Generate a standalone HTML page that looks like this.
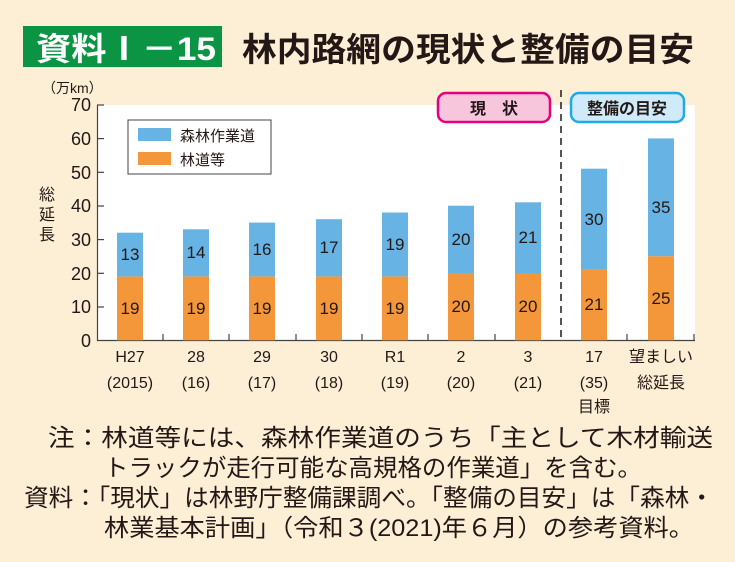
<!DOCTYPE html><html><head><meta charset="utf-8"><style>
body{margin:0;background:#fdeed6;}
svg{display:block;font-family:"Liberation Sans","Noto Sans CJK JP",sans-serif;}
</style></head><body>
<svg width="735" height="562" viewBox="0 0 735 562">
<rect width="735" height="562" fill="#fdeed6"/>
<rect x="23" y="26" width="199" height="41" fill="#0b9444"/>
<text x="36" y="60" font-size="32" fill="#fff" font-weight="bold" textLength="180" lengthAdjust="spacingAndGlyphs">資料Ⅰ－15</text>
<text x="242" y="61" font-size="33" fill="#231815" font-weight="bold" textLength="452" lengthAdjust="spacingAndGlyphs">林内路網の現状と整備の目安</text>
<text x="42" y="93" font-size="14" fill="#231815">（万km）</text>
<rect x="98" y="105" width="597" height="236" fill="#fff"/>
<g font-size="18" fill="#231815" text-anchor="end">
<text x="91" y="347">0</text><text x="91" y="313">10</text><text x="91" y="280">20</text><text x="91" y="246">30</text><text x="91" y="212">40</text><text x="91" y="179">50</text><text x="91" y="145">60</text><text x="91" y="111">70</text>
</g>
<g stroke="#444" stroke-width="1.2">
<line x1="97.5" y1="105" x2="97.5" y2="341"/>
<line x1="97" y1="340.5" x2="695" y2="340.5"/>
<line x1="97" y1="105" x2="104" y2="105"/><line x1="97" y1="138.6" x2="104" y2="138.6"/><line x1="97" y1="172.3" x2="104" y2="172.3"/><line x1="97" y1="206" x2="104" y2="206"/><line x1="97" y1="239.6" x2="104" y2="239.6"/><line x1="97" y1="273.3" x2="104" y2="273.3"/><line x1="97" y1="307" x2="104" y2="307"/>
<line x1="163" y1="334" x2="163" y2="341"/><line x1="229" y1="334" x2="229" y2="341"/><line x1="296" y1="334" x2="296" y2="341"/><line x1="362" y1="334" x2="362" y2="341"/><line x1="428" y1="334" x2="428" y2="341"/><line x1="495" y1="334" x2="495" y2="341"/><line x1="627" y1="334" x2="627" y2="341"/><line x1="694" y1="334" x2="694" y2="341"/>
</g>
<line x1="561" y1="90" x2="561" y2="340" stroke="#231815" stroke-width="1.5" stroke-dasharray="7,5"/>
<g font-size="16" fill="#231815" text-anchor="middle">
<text x="47" y="200">総</text><text x="47" y="220">延</text><text x="47" y="240">長</text>
</g>
<rect x="128" y="120" width="143" height="54" fill="#fff" stroke="#444" stroke-width="1"/>
<rect x="138" y="128" width="33" height="13" fill="#67b3e4"/>
<rect x="138" y="152" width="33" height="13" fill="#f3973a"/>
<text x="180" y="141" font-size="15" fill="#231815">森林作業道</text>
<text x="180" y="165" font-size="15" fill="#231815">林道等</text>
<rect x="438" y="93" width="112" height="29" rx="8" fill="#f7c6dc" stroke="#e4007f" stroke-width="2.5"/>
<text x="494" y="114" font-size="16" font-weight="bold" fill="#231815" text-anchor="middle">現　状</text>
<rect x="571" y="93" width="113" height="29" rx="8" fill="#cfeaf8" stroke="#1eaae7" stroke-width="2.5"/>
<text x="627" y="114" font-size="16" font-weight="bold" fill="#231815" text-anchor="middle">整備の目安</text>
<g>
<rect x="117" y="276.4" width="26" height="63.9" fill="#f3973a"/><rect x="117" y="232.7" width="26" height="43.7" fill="#67b3e4"/>
<rect x="183" y="276.4" width="26" height="63.9" fill="#f3973a"/><rect x="183" y="229.3" width="26" height="47.1" fill="#67b3e4"/>
<rect x="249" y="276.4" width="26" height="63.9" fill="#f3973a"/><rect x="249" y="222.6" width="26" height="53.8" fill="#67b3e4"/>
<rect x="316" y="276.4" width="26" height="63.9" fill="#f3973a"/><rect x="316" y="219.2" width="26" height="57.2" fill="#67b3e4"/>
<rect x="382" y="276.4" width="26" height="63.9" fill="#f3973a"/><rect x="382" y="212.5" width="26" height="63.9" fill="#67b3e4"/>
<rect x="448" y="273" width="26" height="67.3" fill="#f3973a"/><rect x="448" y="205.7" width="26" height="67.3" fill="#67b3e4"/>
<rect x="515" y="273" width="26" height="67.3" fill="#f3973a"/><rect x="515" y="202.3" width="26" height="70.7" fill="#67b3e4"/>
<rect x="581" y="269.6" width="26" height="70.7" fill="#f3973a"/><rect x="581" y="168.7" width="26" height="100.9" fill="#67b3e4"/>
<rect x="648" y="256.2" width="26" height="84.1" fill="#f3973a"/><rect x="648" y="138.4" width="26" height="117.8" fill="#67b3e4"/>
</g>
<g font-size="17" fill="#231815" text-anchor="middle">
<text x="130" y="314">19</text><text x="130" y="260">13</text>
<text x="196" y="314">19</text><text x="196" y="258">14</text>
<text x="262" y="314">19</text><text x="262" y="255">16</text>
<text x="329" y="314">19</text><text x="329" y="253">17</text>
<text x="395" y="314">19</text><text x="395" y="250">19</text>
<text x="461" y="312">20</text><text x="461" y="245">20</text>
<text x="528" y="312">20</text><text x="528" y="243">21</text>
<text x="594" y="310">21</text><text x="594" y="225">30</text>
<text x="661" y="304">25</text><text x="661" y="213">35</text>
</g>
<g font-size="16" fill="#231815" text-anchor="middle">
<text x="130" y="362">H27</text><text x="130" y="388">(2015)</text>
<text x="196" y="362">28</text><text x="196" y="388">(16)</text>
<text x="262" y="362">29</text><text x="262" y="388">(17)</text>
<text x="329" y="362">30</text><text x="329" y="388">(18)</text>
<text x="395" y="362">R1</text><text x="395" y="388">(19)</text>
<text x="461" y="362">2</text><text x="461" y="388">(20)</text>
<text x="528" y="362">3</text><text x="528" y="388">(21)</text>
<text x="594" y="362">17</text><text x="594" y="388">(35)</text><text x="594" y="412">目標</text>
<text x="661" y="362">望ましい</text><text x="661" y="388">総延長</text>
</g>
<g font-size="24" fill="#231815" lengthAdjust="spacingAndGlyphs">
<text x="48" y="446" textLength="665" lengthAdjust="spacingAndGlyphs">注：林道等には、森林作業道のうち「主として木材輸送</text>
<text x="104" y="476" textLength="538" lengthAdjust="spacingAndGlyphs">トラックが走行可能な高規格の作業道」を含む。</text>
<text x="24" y="506" textLength="690" lengthAdjust="spacingAndGlyphs">資料：「現状」は林野庁整備課調べ。「整備の目安」は「森林・</text>
<text x="104" y="536" textLength="590" lengthAdjust="spacingAndGlyphs">林業基本計画」（令和３(2021)年６月）の参考資料。</text>
</g>
</svg>
</body></html>
